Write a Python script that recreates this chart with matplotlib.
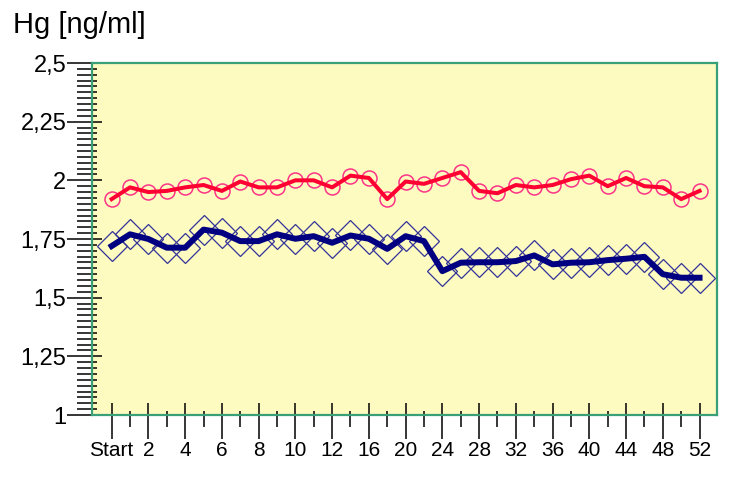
import matplotlib
matplotlib.use('Agg')
import matplotlib.pyplot as plt
import numpy as np
from matplotlib.ticker import FixedLocator, MultipleLocator, FuncFormatter

# week labels (one tick per sample, label on every second one)
weeks = ['Start', '1', '2', '3', '4', '5', '6', '7', '8', '9', '10', '11', '12',
         '14', '16', '18', '20', '22', '24', '26', '28', '30', '32', '34', '36',
         '38', '40', '42', '44', '46', '48', '50', '52']

red = [1.92, 1.97, 1.95, 1.955, 1.97, 1.98, 1.955, 1.995, 1.97, 1.97, 2.0,
       2.0, 1.97, 2.02, 2.01, 1.92, 1.995, 1.985, 2.01, 2.035, 1.955, 1.945,
       1.98, 1.97, 1.98, 2.005, 2.02, 1.975, 2.01, 1.975, 1.97, 1.92, 1.955]

blue = [1.72, 1.77, 1.75, 1.713, 1.713, 1.79, 1.777, 1.741, 1.741, 1.77,
        1.751, 1.762, 1.734, 1.765, 1.751, 1.708, 1.762, 1.741, 1.613, 1.649,
        1.651, 1.651, 1.656, 1.68, 1.642, 1.649, 1.651, 1.66, 1.666, 1.674,
        1.60, 1.585, 1.585]

plt.rcParams['font.family'] = ['Liberation Sans', 'DejaVu Sans']

x = np.arange(len(weeks))
px = 72 / 100  # points per pixel

fig = plt.figure(figsize=(7.39, 5.01), dpi=100)
ax = fig.add_axes([92 / 739, 1 - 415 / 501, (717 - 92) / 739, (415 - 63) / 501])
ax.set_facecolor('#fdfbbf')

# markers under the thick lines
ax.plot(x, red, linestyle='none', marker='o', ms=10.8, mfc='none',
        mec='#ff3388', mew=1.1, zorder=2)
ax.plot(x, red, color='#ff0033', lw=2.9, zorder=3)
ax.plot(x, blue, linestyle='none', marker='D', ms=15, mfc='none',
        mec='#333399', mew=0.9, zorder=2)
ax.plot(x, blue, color='#000080', lw=4.3, zorder=3)

ax.set_xlim(-1.07, 32.95)
ax.set_ylim(1, 2.5)

for s in ax.spines.values():
    s.set_color('#3aa078')
    s.set_linewidth(1.6)

# y axis
ax.yaxis.set_major_locator(MultipleLocator(0.25))
ax.yaxis.set_minor_locator(MultipleLocator(0.025))
ax.yaxis.set_major_formatter(FuncFormatter(lambda v, p: ('%g' % v).replace('.', ',')))
ax.tick_params(axis='y', which='major', direction='out', length=25 * px,
               width=1.1, labelsize=17, pad=0.5)
ax.tick_params(axis='y', which='minor', direction='out', length=15 * px, width=1.1)

# x axis
ax.xaxis.set_major_locator(FixedLocator(x[::2]))
ax.xaxis.set_minor_locator(FixedLocator(x[1::2]))
ax.set_xticklabels(weeks[::2])
ax.tick_params(axis='x', which='major', direction='out', length=24 * px,
               width=1.1, labelsize=15, pad=1.5)
ax.tick_params(axis='x', which='minor', direction='out', length=12 * px, width=1.1)

# inner parts of the ticks
secy = ax.secondary_yaxis('left')
secy.yaxis.set_major_locator(MultipleLocator(0.25))
secy.yaxis.set_minor_locator(MultipleLocator(0.025))
secy.tick_params(which='major', direction='in', length=10 * px, width=1.1, labelleft=False)
secy.tick_params(which='minor', direction='in', length=5 * px, width=1.1)
secy.spines['left'].set_visible(False)

secx = ax.secondary_xaxis('bottom')
secx.xaxis.set_major_locator(FixedLocator(x[::2]))
secx.xaxis.set_minor_locator(FixedLocator(x[1::2]))
secx.tick_params(which='major', direction='in', length=12 * px, width=1.1, labelbottom=False)
secx.tick_params(which='minor', direction='in', length=4 * px, width=1.1)
secx.spines['bottom'].set_visible(False)

fig.text(13 / 739, 1 - 33 / 501, 'Hg [ng/ml]', fontsize=21, va='baseline', ha='left')

fig.savefig('out.png', dpi=100)
